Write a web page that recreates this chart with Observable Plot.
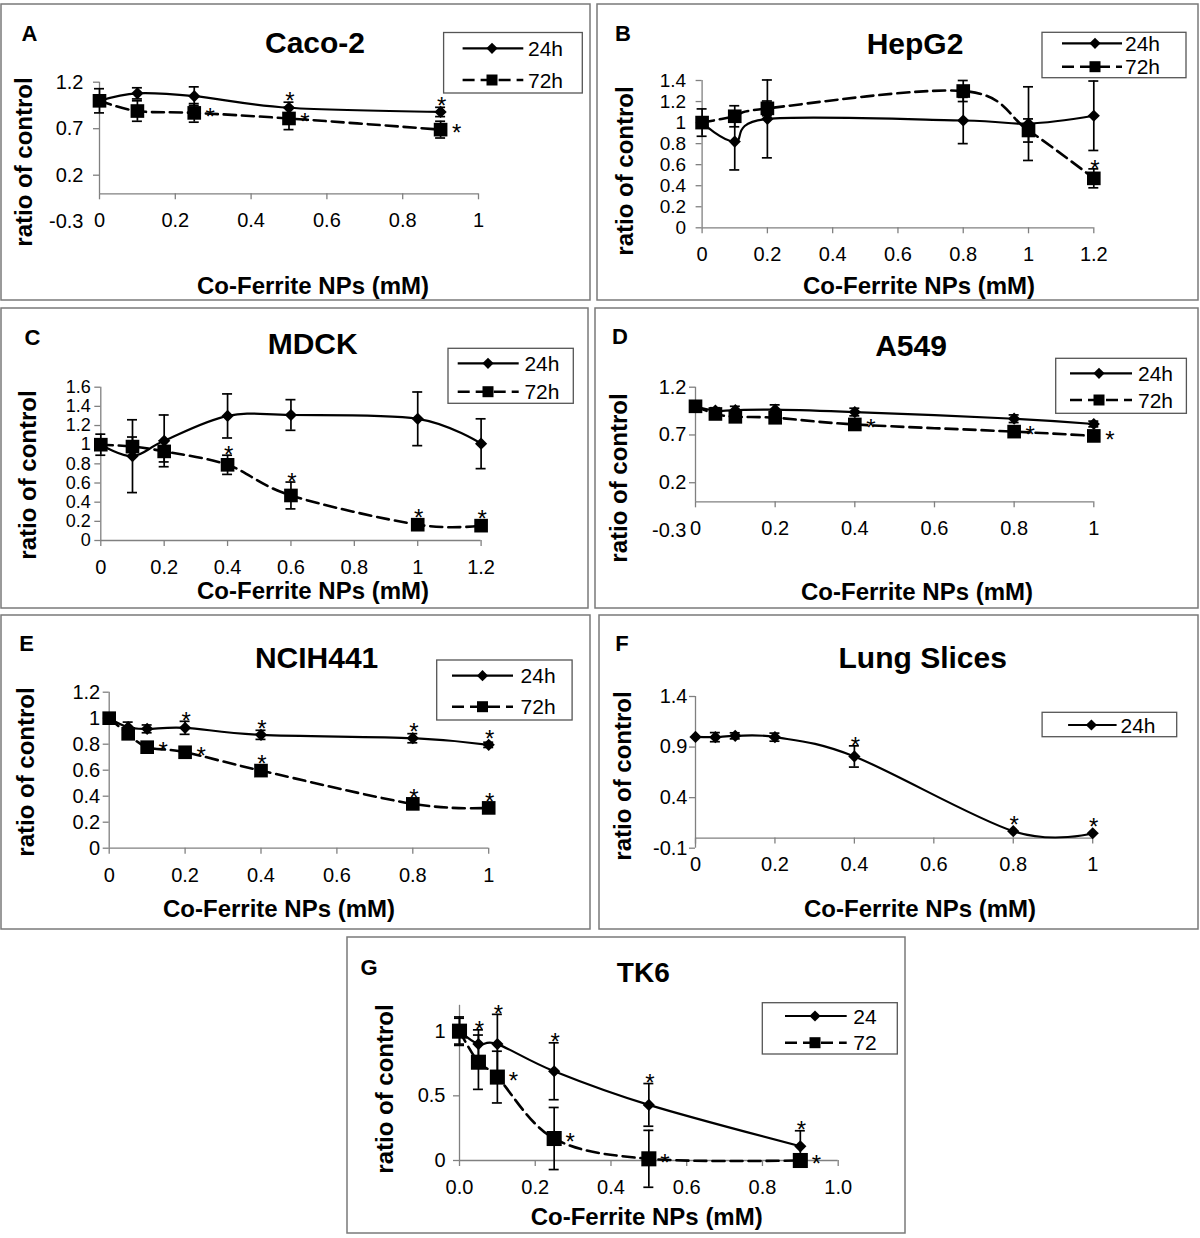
<!DOCTYPE html>
<html>
<head>
<meta charset="utf-8">
<script src="https://cdn.jsdelivr.net/npm/d3@7"></script>
<script src="https://cdn.jsdelivr.net/npm/@observablehq/plot@0.6"></script>
<style>
  body { margin: 0; background: #fff; }
  #root { position: relative; width: 1200px; height: 1238px; overflow: hidden; background: #fff; }
</style>
</head>
<body>
<div id="root"></div>
<script>
// ---------------- DATA ----------------
// A: Caco-2
const caco2Dose   = [0, 0.1, 0.25, 0.5, 0.9];
const caco2_24h   = [1.0, 1.08, 1.05, 0.925, 0.88];
const caco2_24hEr = [0, 0.06, 0.1, 0.06, 0.05];
const caco2_72h   = [1.0, 0.89, 0.87, 0.81, 0.69];
const caco2_72hEr = [0.13, 0.11, 0.1, 0.12, 0.09];
const caco2Stars  = [[0.25, "72h", "right"], [0.5, "24h", "above"], [0.5, "72h", "right"], [0.9, "24h", "above"], [0.9, "72h", "right"]];

// B: HepG2
const hepDose   = [0, 0.1, 0.2, 0.8, 1.0, 1.2];
const hep_24h   = [1.0, 0.82, 1.035, 1.02, 0.99, 1.065];
const hep_24hEr = [0.05, 0.27, 0.37, 0.22, 0.35, 0.33];
const hep_72h   = [1.0, 1.06, 1.135, 1.30, 0.925, 0.47];
const hep_72hEr = [0.13, 0.1, 0.07, 0.1, 0.11, 0.09];
const hepStars  = [[1.2, "72h", "above"]];

// C: MDCK
const mdckDose   = [0, 0.1, 0.2, 0.4, 0.6, 1.0, 1.2];
const mdck_24h   = [1.0, 0.88, 1.04, 1.30, 1.31, 1.27, 1.01];
const mdck_24hEr = [0.05, 0.38, 0.27, 0.23, 0.16, 0.28, 0.26];
const mdck_72h   = [1.0, 0.98, 0.93, 0.79, 0.47, 0.165, 0.155];
const mdck_72hEr = [0.11, 0.1, 0.11, 0.1, 0.14, 0.02, 0.02];
const mdckStars  = [[0.4, "72h", "above"], [0.6, "72h", "above"], [1.0, "72h", "above"], [1.2, "72h", "above"]];

// D: A549
const a549Dose   = [0, 0.05, 0.1, 0.2, 0.4, 0.8, 1.0];
const a549_24h   = [1.0, 0.955, 0.96, 0.965, 0.94, 0.87, 0.815];
const a549_24hEr = [0.03, 0.03, 0.04, 0.05, 0.04, 0.04, 0.03];
const a549_72h   = [1.0, 0.92, 0.89, 0.88, 0.81, 0.735, 0.69];
const a549_72hEr = [0.03, 0.03, 0.03, 0.03, 0.04, 0.04, 0.04];
const a549Stars  = [[0.4, "72h", "right"], [0.8, "72h", "right"], [1.0, "72h", "right"]];

// E: NCIH441
const nciDose   = [0, 0.05, 0.1, 0.2, 0.4, 0.8, 1.0];
const nci_24h   = [1.0, 0.93, 0.918, 0.926, 0.872, 0.846, 0.795];
const nci_24hEr = [0.02, 0.04, 0.03, 0.05, 0.035, 0.035, 0.02];
const nci_72h   = [1.0, 0.88, 0.777, 0.738, 0.597, 0.341, 0.31];
const nci_72hEr = [0.02, 0.04, 0.02, 0.03, 0.03, 0.03, 0.02];
const nciStars  = [[0.2, "24h", "above"], [0.4, "24h", "above"], [0.8, "24h", "above"], [1.0, "24h", "above"],
                   [0.1, "72h", "right"], [0.2, "72h", "right"], [0.4, "72h", "above"], [0.8, "72h", "above"], [1.0, "72h", "above"]];

// F: Lung Slices
const lungDose   = [0, 0.05, 0.1, 0.2, 0.4, 0.8, 1.0];
const lung_24h   = [1.0, 0.998, 1.011, 0.998, 0.807, 0.068, 0.048];
const lung_24hEr = [0, 0.045, 0.03, 0.04, 0.105, 0, 0];
const lungStars  = [[0.4, "24h", "above"], [0.8, "24h", "above"], [1.0, "24h", "above"]];

// G: TK6
const tk6Dose  = [0, 0.05, 0.1, 0.25, 0.5, 0.9];
const tk6_24   = [1.0, 0.9, 0.9, 0.69, 0.43, 0.11];
const tk6_24Er = [0.1, 0.11, 0.23, 0.22, 0.165, 0.12];
const tk6_72   = [1.0, 0.76, 0.645, 0.17, 0.013, 0.0];
const tk6_72Er = [0.11, 0.21, 0.2, 0.24, 0.22, 0];
const tk6Stars = [[0.05, "24", "above"], [0.1, "24", "above"], [0.25, "24", "above"], [0.5, "24", "above"], [0.9, "24", "above"],
                  [0.1, "72", "right"], [0.25, "72", "right"], [0.5, "72", "right"], [0.9, "72", "right"]];

// tick values / labels
const xTicks0to1   = [0, 0.2, 0.4, 0.6, 0.8, 1];
const xTicks0to12  = [0, 0.2, 0.4, 0.6, 0.8, 1, 1.2];
const xLabels0to1  = ["0", "0.2", "0.4", "0.6", "0.8", "1"];
const xLabels0to12 = ["0", "0.2", "0.4", "0.6", "0.8", "1", "1.2"];
const xLabelsTk6   = ["0.0", "0.2", "0.4", "0.6", "0.8", "1.0"];
const yTicksA  = [-0.3, 0.2, 0.7, 1.2];
const yLabelsA = ["-0.3", "0.2", "0.7", "1.2"];
const yTicksB  = [0, 0.2, 0.4, 0.6, 0.8, 1, 1.2, 1.4];
const yLabelsB = ["0", "0.2", "0.4", "0.6", "0.8", "1", "1.2", "1.4"];
const yTicksC  = [0, 0.2, 0.4, 0.6, 0.8, 1, 1.2, 1.4, 1.6];
const yLabelsC = ["0", "0.2", "0.4", "0.6", "0.8", "1", "1.2", "1.4", "1.6"];
const yTicksE  = [0, 0.2, 0.4, 0.6, 0.8, 1, 1.2];
const yLabelsE = ["0", "0.2", "0.4", "0.6", "0.8", "1", "1.2"];
const yTicksF  = [-0.1, 0.4, 0.9, 1.4];
const yLabelsF = ["-0.1", "0.4", "0.9", "1.4"];
const yTicksG  = [0, 0.5, 1];
const yLabelsG = ["0", "0.5", "1"];

const xTitle = "Co-Ferrite NPs (mM)";
const yTitle = "ratio of control";

// ---------------- LAYOUT ----------------
const FONT = '"Liberation Sans", Arial, Helvetica, sans-serif';
const AXIS = "#808080";

const s24 = (key, values, err) => ({key, values, err, symbol: "diamond2", r: 5.5, dash: null, width: 2.2});
const s72 = (key, values, err, r = 7.7) => ({key, values, err, symbol: "square", r, dash: "12,6", width: 2.6});

const panels = [
  { letter: "A", title: "Caco-2", dose: caco2Dose,
    series: [s24("24h", caco2_24h, caco2_24hEr), s72("72h", caco2_72h, caco2_72hEr)],
    stars: caco2Stars, xDomain: [0, 1], yDomain: [-0.3, 1.2], yAxisFrom: 0,
    xTicks: xTicks0to1, xLabels: xLabels0to1, yTicks: yTicksA, yLabels: yLabelsA, tickFont: 20,
    box: [1, 4, 590, 300], frame: [99, 478, 81.7, 221.2], yGap: 16, titleSize: 30,
    letterPos: [29.5, 33], titlePos: [315, 42], yTitlePos: [23.5, 162], xTitlePos: [313, 285],
    legend: {box: [443.6, 32.5, 582.3, 93], rows: [48.3, 80], line: [462.6, 523.3], marker: 492, text: 528} },
  { letter: "B", title: "HepG2", dose: hepDose,
    series: [s24("24h", hep_24h, hep_24hEr), s72("72h", hep_72h, hep_72hEr)],
    stars: hepStars, xDomain: [0, 1.2], yDomain: [0, 1.4], yAxisFrom: 0,
    xTicks: xTicks0to12, xLabels: xLabels0to12, yTicks: yTicksB, yLabels: yLabelsB, tickFont: 19,
    box: [597, 4, 1198, 300], frame: [701.6, 1093.3, 80, 227.3], yGap: 16, titleSize: 30,
    letterPos: [623, 33], titlePos: [915, 43], yTitlePos: [624, 171], xTitlePos: [919, 285],
    legend: {box: [1042, 32.3, 1186, 77.7], rows: [43.3, 66.7], line: [1062, 1122], marker: 1095, text: 1125} },
  { letter: "C", title: "MDCK", dose: mdckDose,
    series: [s24("24h", mdck_24h, mdck_24hEr), s72("72h", mdck_72h, mdck_72hEr)],
    stars: mdckStars, xDomain: [0, 1.2], yDomain: [0, 1.6], yAxisFrom: 0,
    xTicks: xTicks0to12, xLabels: xLabels0to12, yTicks: yTicksC, yLabels: yLabelsC, tickFont: 18,
    box: [1, 308, 588, 608], frame: [100.3, 480.6, 386.7, 540], yGap: 10, titleSize: 30,
    letterPos: [32.5, 337], titlePos: [312.7, 343], yTitlePos: [27.5, 475], xTitlePos: [313, 590],
    legend: {box: [448, 348.3, 573.3, 403.3], rows: [363.3, 391.7], line: [457.7, 518.7], marker: 488, text: 524.4} },
  { letter: "D", title: "A549", dose: a549Dose,
    series: [s24("24h", a549_24h, a549_24hEr), s72("72h", a549_72h, a549_72hEr)],
    stars: a549Stars, xDomain: [0, 1], yDomain: [-0.3, 1.2], yAxisFrom: 0,
    xTicks: xTicks0to1, xLabels: xLabels0to1, yTicks: yTicksA, yLabels: yLabelsA, tickFont: 20,
    box: [595, 308, 1198, 608], frame: [695, 1093.3, 386.7, 530], yGap: 9, titleSize: 30,
    letterPos: [620, 336], titlePos: [911, 345], yTitlePos: [618, 478], xTitlePos: [917, 591],
    legend: {box: [1055.7, 358.3, 1186.4, 413.3], rows: [373.3, 400], line: [1070, 1132], marker: 1099, text: 1138} },
  { letter: "E", title: "NCIH441", dose: nciDose,
    series: [s24("24h", nci_24h, nci_24hEr), s72("72h", nci_72h, nci_72hEr)],
    stars: nciStars, xDomain: [0, 1], yDomain: [0, 1.2], yAxisFrom: 0,
    xTicks: xTicks0to1, xLabels: xLabels0to1, yTicks: yTicksE, yLabels: yLabelsE, tickFont: 20,
    box: [1, 615, 590, 929], frame: [108.7, 488.2, 691.7, 847.7], yGap: 9, titleSize: 30,
    letterPos: [26.7, 643], titlePos: [316.6, 656.7], yTitlePos: [25, 772], xTitlePos: [279, 908],
    legend: {box: [436.7, 660, 572.1, 720], rows: [675.7, 706.7], line: [452, 513], marker: 482.5, text: 520.6} },
  { letter: "F", title: "Lung Slices", dose: lungDose,
    series: [s24("24h", lung_24h, lung_24hEr)],
    stars: lungStars, xDomain: [0, 1], yDomain: [-0.1, 1.4], yAxisFrom: -0.1,
    xTicks: xTicks0to1, xLabels: xLabels0to1, yTicks: yTicksF, yLabels: yLabelsF, tickFont: 20,
    box: [599, 615, 1198, 929], frame: [695, 1092.2, 696, 847.7], yGap: 8, titleSize: 30,
    letterPos: [622, 643], titlePos: [922.7, 656.7], yTitlePos: [622, 776], xTitlePos: [920, 908],
    legend: {box: [1042.1, 712.3, 1176.7, 736.7], rows: [725], line: [1068.1, 1116.6], marker: 1091.4, text: 1120.5} },
  { letter: "G", title: "TK6", dose: tk6Dose,
    series: [s24("24", tk6_24, tk6_24Er), s72("72", tk6_72, tk6_72Er, 8.5)],
    stars: tk6Stars, xDomain: [0, 1], yDomain: [0, 1.2], yAxisFrom: 0,
    xTicks: xTicks0to1, xLabels: xLabelsTk6, yTicks: yTicksG, yLabels: yLabelsG, tickFont: 20,
    box: [347, 937, 905, 1233], frame: [459, 837.7, 1004.8, 1160], yGap: 14, titleSize: 28,
    letterPos: [369, 966.7], titlePos: [643.3, 971.7], yTitlePos: [384, 1089], xTitlePos: [646.7, 1216.7],
    legend: {box: [762.3, 1002.7, 897.3, 1054], rows: [1016, 1042.7], line: [785, 846.7], marker: 815, text: 853.3} }
];

const root = document.getElementById("root");

function drawPanel(p) {
  const [l, t, r, b] = p.box;
  const [fx0, fx1, fyt, fyb] = p.frame;
  const ppu = (fyb - fyt) / (p.yDomain[1] - p.yDomain[0]);
  const rows = p.series.flatMap(s => s.values.map((v, i) => ({x: p.dose[i], v, e: s.err[i], key: s.key})));
  const bars = rows.filter(d => d.e > 0);
  const starAbove = [], starRight = [];
  for (const [x, key, pos] of p.stars) {
    const d = rows.find(q => q.key === key && q.x === x);
    if (pos === "above") starAbove.push({x, y: Math.max(d.v + d.e + 6 / ppu, d.v + 12 / ppu)});
    else starRight.push({x, y: d.v});
  }
  const xLab = new Map(p.xTicks.map((d, i) => [d, p.xLabels[i]]));
  const yLab = new Map(p.yTicks.map((d, i) => [d, p.yLabels[i]]));
  const marks = [
    Plot.ruleY([0], {x1: p.xDomain[0], x2: p.xDomain[1], stroke: AXIS, strokeWidth: 1.3}),
    Plot.ruleX([0], {y1: p.yAxisFrom, y2: p.yDomain[1], stroke: AXIS, strokeWidth: 1.3}),
    Plot.ruleX(p.xTicks, {x: d => d, y1: 0, y2: 0, insetBottom: -6, stroke: AXIS, strokeWidth: 1.3}),
    Plot.ruleY(p.yTicks.filter(d => d >= p.yAxisFrom), {y: d => d, x1: 0, x2: 0, insetLeft: -6, stroke: AXIS, strokeWidth: 1.3}),
    Plot.text(p.xTicks, {x: d => d, y: 0, dy: 27, text: d => xLab.get(d), fontSize: 20, fill: "black"}),
    Plot.text(p.yTicks, {x: 0, y: d => d, dx: -p.yGap, text: d => yLab.get(d), textAnchor: "end", fontSize: p.tickFont, fill: "black"})
  ];
  for (const s of p.series) {
    marks.push(Plot.line(rows.filter(d => d.key === s.key), {x: "x", y: "v", curve: "cardinal", stroke: "black", strokeWidth: s.width, strokeDasharray: s.dash}));
  }
  marks.push(
    Plot.ruleX(bars, {x: "x", y1: d => d.v - d.e, y2: d => d.v + d.e, stroke: "black", strokeWidth: 1.7}),
    Plot.ruleY(bars, {y: d => d.v + d.e, x1: "x", x2: "x", insetLeft: -5, insetRight: -5, stroke: "black", strokeWidth: 1.7}),
    Plot.ruleY(bars, {y: d => d.v - d.e, x1: "x", x2: "x", insetLeft: -5, insetRight: -5, stroke: "black", strokeWidth: 1.7})
  );
  for (const s of p.series) {
    marks.push(Plot.dot(rows.filter(d => d.key === s.key), {x: "x", y: "v", symbol: s.symbol, r: s.r, fill: "black", stroke: "none"}));
  }
  marks.push(
    Plot.text(starAbove, {x: "x", y: "y", text: () => "*", dx: 1, dy: 6, fontSize: 24, fill: "black"}),
    Plot.text(starRight, {x: "x", y: "y", text: () => "*", dx: 16, dy: 4, fontSize: 24, fill: "black"})
  );
  const svg = Plot.plot({
    width: r - l, height: b - t,
    marginLeft: fx0 - l, marginRight: r - fx1, marginTop: fyt - t, marginBottom: b - fyb,
    x: {type: "linear", domain: p.xDomain, axis: null},
    y: {type: "linear", domain: p.yDomain, axis: null},
    style: {fontFamily: FONT, fontSize: "20px", background: "transparent", overflow: "visible", color: "black"},
    marks
  });
  svg.style.position = "absolute";
  svg.style.left = l + "px";
  svg.style.top = t + "px";
  root.appendChild(svg);
}

panels.forEach(drawPanel);

// ---------------- OVERLAY (frames, titles, legends) ----------------
const ov = d3.select(root).append("svg")
  .attr("width", 1200).attr("height", 1238)
  .style("position", "absolute").style("left", "0px").style("top", "0px")
  .style("font-family", FONT);

function txt(x, y, s, size, weight, rotate) {
  const e = ov.append("text").attr("x", x).attr("y", y).attr("dy", "0.36em")
    .attr("text-anchor", "middle").attr("font-size", size).attr("font-weight", weight)
    .attr("fill", "black").text(s);
  if (rotate) e.attr("transform", `rotate(-90 ${x} ${y})`);
}

for (const p of panels) {
  const [l, t, r, b] = p.box;
  ov.append("rect").attr("x", l).attr("y", t).attr("width", r - l).attr("height", b - t)
    .attr("fill", "none").attr("stroke", "#7a7a7a").attr("stroke-width", 1.5);
  txt(p.letterPos[0], p.letterPos[1], p.letter, 22, "bold");
  txt(p.titlePos[0], p.titlePos[1], p.title, p.titleSize, "bold");
  txt(p.yTitlePos[0], p.yTitlePos[1], yTitle, 24, "bold", true);
  txt(p.xTitlePos[0], p.xTitlePos[1], xTitle, 24, "bold");
  const L = p.legend;
  ov.append("rect").attr("x", L.box[0]).attr("y", L.box[1]).attr("width", L.box[2] - L.box[0]).attr("height", L.box[3] - L.box[1])
    .attr("fill", "white").attr("stroke", "#555").attr("stroke-width", 1.3);
  L.rows.forEach((ry, i) => {
    const s = p.series[i];
    ov.append("line").attr("x1", L.line[0]).attr("x2", L.line[1]).attr("y1", ry).attr("y2", ry)
      .attr("stroke", "black").attr("stroke-width", s.width).attr("stroke-dasharray", s.dash);
    const sym = s.symbol === "square" ? d3.symbolSquare : d3.symbolDiamond2;
    const size = s.symbol === "square" ? 121 : 80;
    ov.append("path").attr("d", d3.symbol(sym, size)()).attr("transform", `translate(${L.marker},${ry})`).attr("fill", "black");
    ov.append("text").attr("x", L.text).attr("y", ry).attr("dy", "0.36em").attr("font-size", 21).attr("fill", "black").text(s.key);
  });
}
</script>
</body>
</html>
